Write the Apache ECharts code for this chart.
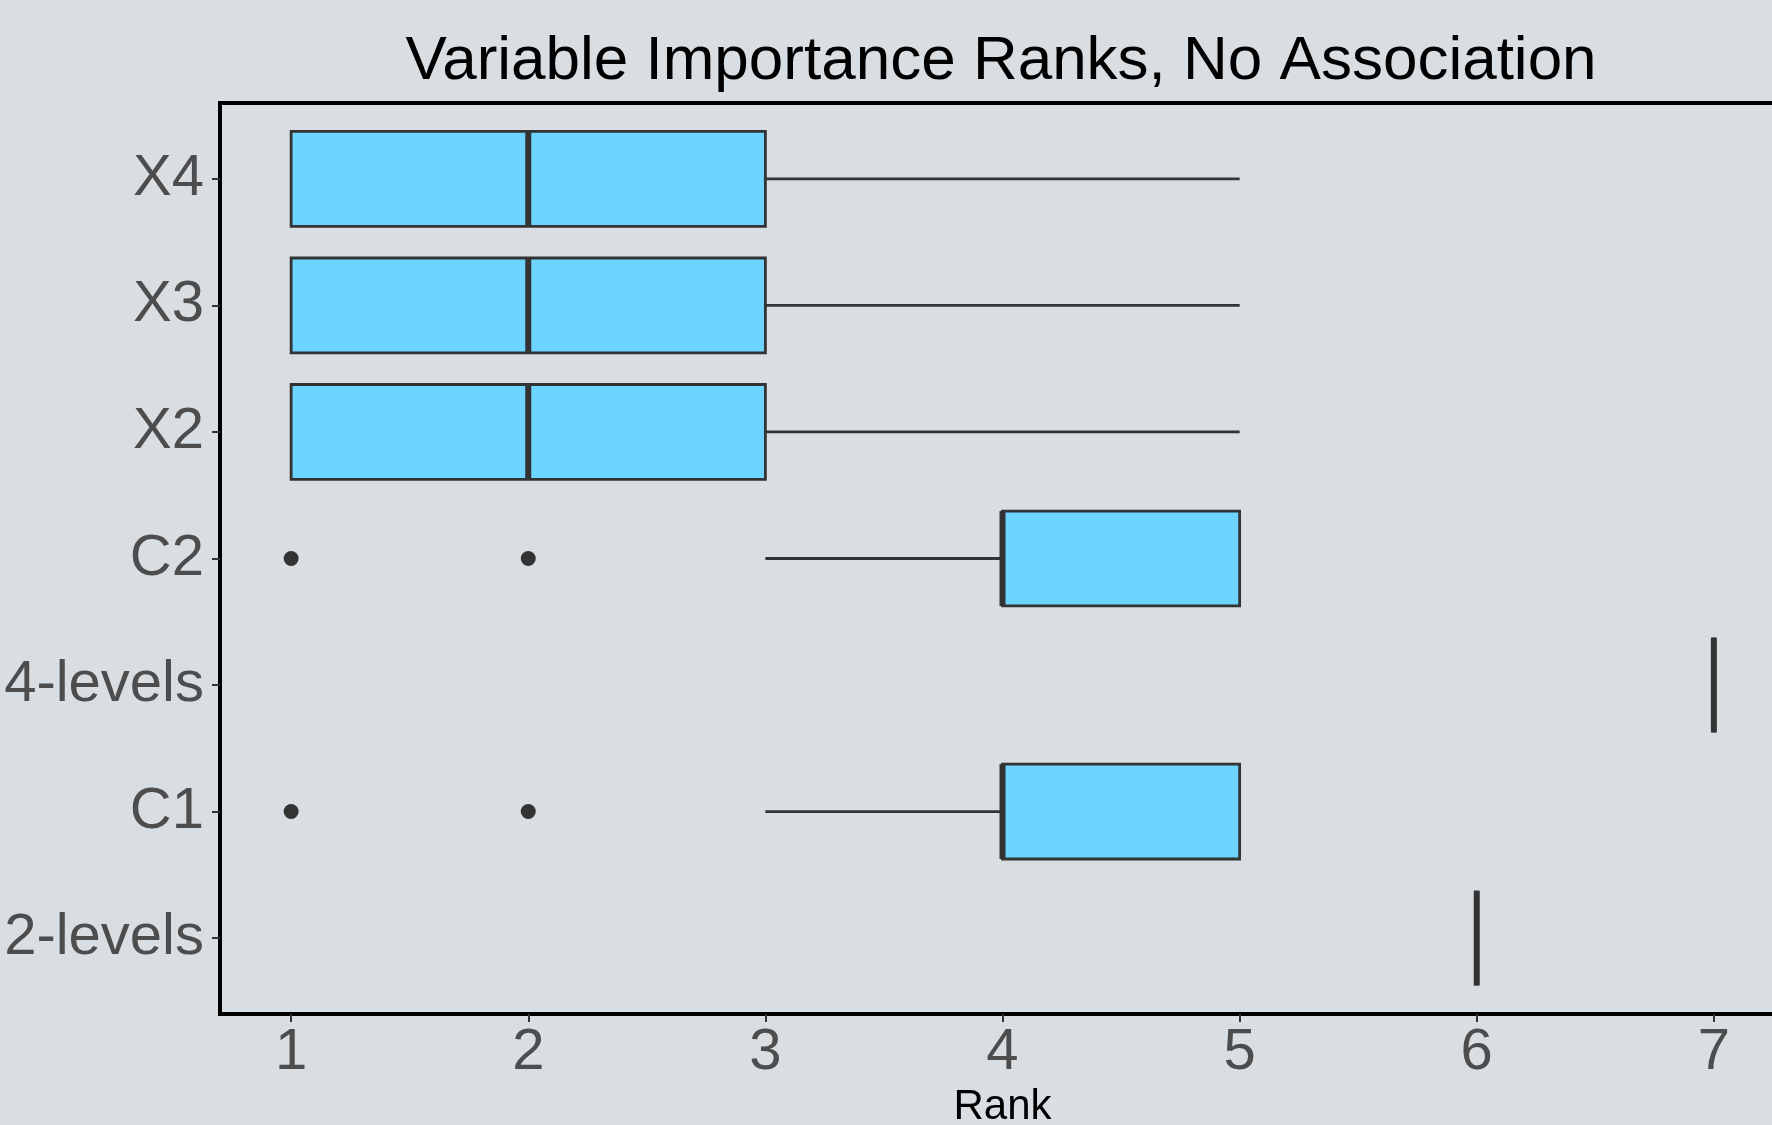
<!DOCTYPE html>
<html>
<head>
<meta charset="utf-8">
<style>
  html, body { margin: 0; padding: 0; background: #D9DEE2; }
  #chart { width: 1772px; height: 1125px; }
</style>
<script src="https://cdn.jsdelivr.net/npm/echarts@6/dist/echarts.min.js"></script>
</head>
<body>
<div id="chart"></div>
<script>
// Variables, bottom to top on the vertical axis
const categories = ['2-levels', 'C1', '4-levels', 'C2', 'X2', 'X3', 'X4'];

// Five-number summaries of the importance ranks for each variable
const lowerWhisker = [6, 3, 7, 3, 1, 1, 1];
const q1           = [6, 4, 7, 4, 1, 1, 1];
const median       = [6, 4, 7, 4, 2, 2, 2];
const q3           = [6, 5, 7, 5, 3, 3, 3];
const upperWhisker = [6, 5, 7, 5, 5, 5, 5];

// Outlying ranks: [rank, variable]
const outliers = [[1, 'C1'], [2, 'C1'], [1, 'C2'], [2, 'C2']];

// Rank tick values
const rankTicks = [1, 2, 3, 4, 5, 6, 7];

const LINE = '#333333';
const FILL = '#6DD4FF';
const BOX_HALF = 0.375;

const boxData = categories.map((c, i) => [i + 1, lowerWhisker[i], q1[i], median[i], q3[i], upperWhisker[i]]);
const outlierData = outliers.map(o => [o[0], categories.indexOf(o[1]) + 1]);

function renderBox(params, api) {
  const y = api.value(0);
  const lw = api.value(1), a = api.value(2), m = api.value(3), b = api.value(4), uw = api.value(5);
  const half = api.size([0, BOX_HALF])[1];
  const pLw = api.coord([lw, y]);
  const pA = api.coord([a, y]);
  const pM = api.coord([m, y]);
  const pB = api.coord([b, y]);
  const pUw = api.coord([uw, y]);
  const lineStyle = { stroke: LINE, lineWidth: 2.8 };
  const children = [];
  if (lw < a) {
    children.push({ type: 'line', shape: { x1: pLw[0], y1: pLw[1], x2: pA[0], y2: pA[1] }, style: lineStyle });
  }
  if (uw > b) {
    children.push({ type: 'line', shape: { x1: pB[0], y1: pB[1], x2: pUw[0], y2: pUw[1] }, style: lineStyle });
  }
  children.push({
    type: 'rect',
    shape: { x: pA[0], y: pA[1] - half, width: pB[0] - pA[0], height: 2 * half },
    style: { fill: FILL, stroke: LINE, lineWidth: 2.8 }
  });
  children.push({
    type: 'line',
    shape: { x1: pM[0], y1: pM[1] - half, x2: pM[0], y2: pM[1] + half },
    style: { stroke: LINE, lineWidth: 6 }
  });
  return { type: 'group', children };
}

const chart = echarts.init(document.getElementById('chart'), null, { renderer: 'canvas' });

chart.setOption({
  backgroundColor: '#D9DEE2',
  animation: false,
  textStyle: { fontFamily: 'Liberation Sans, Arial, sans-serif' },
  graphic: [{
    type: 'text',
    x: 1001,
    y: 31,
    style: {
      text: 'Variable Importance Ranks, No Association',
      fill: '#000000',
      font: '62px "Liberation Sans", Arial, sans-serif',
      textAlign: 'center',
      textVerticalAlign: 'top'
    }
  }],
  grid: {
    left: 220,
    top: 103,
    width: 1565,
    height: 911,
    outerBoundsMode: 'none',
    containLabel: false,
    show: true,
    borderColor: '#000000',
    borderWidth: 4,
    backgroundColor: 'transparent'
  },
  xAxis: {
    type: 'value',
    min: 0.7,
    max: 7.3,
    name: 'Rank',
    nameLocation: 'middle',
    nameGap: 64,
    nameTextStyle: { color: '#000000', fontSize: 42, fontFamily: 'Liberation Sans' },
    splitLine: { show: false },
    axisLine: { show: false },
    axisTick: { show: true, length: 8, customValues: rankTicks, lineStyle: { color: LINE, width: 2 } },
    axisLabel: {
      customValues: rankTicks,
      color: '#4D4D4D',
      fontSize: 58,
      margin: 10,
      fontFamily: 'Liberation Sans'
    }
  },
  yAxis: {
    type: 'value',
    min: 0.4,
    max: 7.6,
    splitLine: { show: false },
    axisLine: { show: false },
    axisTick: { show: true, length: 8, customValues: rankTicks, lineStyle: { color: LINE, width: 2 } },
    axisLabel: {
      customValues: rankTicks,
      color: '#4D4D4D',
      fontSize: 58,
      margin: 16,
      fontFamily: 'Liberation Sans',
      formatter: v => categories[Math.round(v) - 1] || ''
    }
  },
  series: [
    {
      type: 'custom',
      renderItem: renderBox,
      encode: { x: [1, 2, 3, 4, 5], y: 0 },
      data: boxData,
      clip: false
    },
    {
      type: 'scatter',
      data: outlierData,
      symbol: 'circle',
      symbolSize: 15,
      itemStyle: { color: LINE, opacity: 1 },
      z: 3
    }
  ]
});
</script>
</body>
</html>
